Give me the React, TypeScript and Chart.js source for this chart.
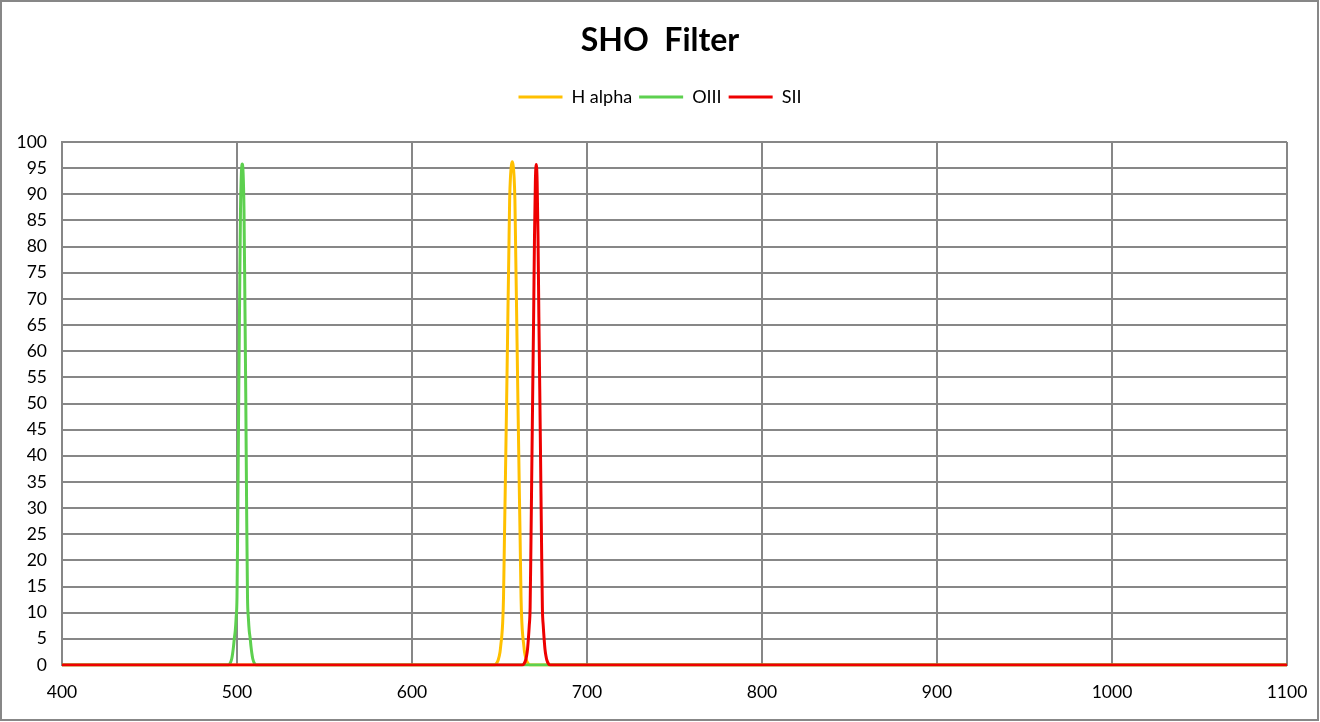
import { useEffect, useRef } from 'react';
import { Chart, registerables } from 'chart.js';

Chart.register(...registerables);

const chartTitle = 'SHO  Filter';
const seriesNames = ['H alpha', 'OIII', 'SII'];
const seriesColors = ['#FFC000', '#5DD04F', '#EE0000'];

const xMin = 400;
const xMax = 1100;
const xStep = 100;
const yMin = 0;
const yMax = 100;
const yStep = 5;

const haWavelengths = [400, 647.3, 648.3, 649.3, 650.3, 650.8, 651.3, 651.8, 652.3, 652.8, 653.3, 653.8, 654.3, 654.8, 655.3, 655.8, 656.3, 656.8, 657.3, 657.8, 658.3, 658.8, 659.3, 659.8, 660.3, 660.8, 661.3, 661.8, 662.3, 662.8, 663.3, 663.8, 664.3, 665.3, 666.3, 667.3, 1100];
const haValues = [0, 0, 0.3, 1, 2.5, 4, 5.5, 8, 13, 23.7, 34, 44.7, 55.5, 67, 78, 89, 93.5, 95.5, 96.2, 95.5, 93.5, 89, 78, 67, 55.5, 44.7, 34, 23.7, 13, 8, 5.5, 4, 2.5, 1, 0.3, 0, 0];

const oiiiWavelengths = [400, 495, 496, 497, 497.5, 498, 498.5, 499, 499.5, 500, 500.5, 501, 501.5, 502, 502.5, 503, 503.5, 504, 504.5, 505, 505.5, 506, 506.5, 507, 507.5, 508, 508.5, 509, 510, 511, 1100];
const oiiiValues = [0, 0, 0.3, 1.2, 2.2, 3.5, 5.2, 6.5, 9, 13, 30, 52, 70, 87, 94, 95.8, 94, 87, 70, 52, 30, 13, 9, 6.5, 5.2, 3.5, 2.2, 1.2, 0.3, 0, 0];

const siiWavelengths = [400, 663, 664, 665, 665.5, 666, 666.5, 667, 667.5, 668, 668.5, 669, 669.5, 670, 670.5, 671, 671.5, 672, 672.5, 673, 673.5, 674, 674.5, 675, 675.5, 676, 676.5, 677, 678, 679, 1100];
const siiValues = [0, 0, 0.2, 1, 1.8, 3, 5, 7.5, 11, 24, 38.6, 52.8, 66.5, 82, 92.5, 95.7, 92.5, 82, 66.5, 52.8, 38.6, 24, 11, 7.5, 5, 3, 1.8, 1, 0.2, 0, 0];

const toPoints = (xs: number[], ys: number[]) => xs.map((x, i) => ({ x, y: ys[i] }));

export default function App() {
  const ref = useRef<HTMLCanvasElement>(null);

  useEffect(() => {
    const family = 'Lato, "Open Sans", sans-serif';
    const gridColor = '#878787';
    const series = [
      toPoints(haWavelengths, haValues),
      toPoints(oiiiWavelengths, oiiiValues),
      toPoints(siiWavelengths, siiValues),
    ];
    const orders = [3, 2, 1];
    const chart = new Chart(ref.current as HTMLCanvasElement, {
      type: 'line',
      data: {
        datasets: series.map((data, i) => ({
          label: seriesNames[i],
          data,
          borderColor: seriesColors[i],
          backgroundColor: seriesColors[i],
          borderWidth: 3,
          pointRadius: 0,
          fill: false,
          cubicInterpolationMode: 'monotone' as const,
          order: orders[i],
        })),
      },
      options: {
        animation: false,
        responsive: false,
        devicePixelRatio: 1,
        layout: { padding: 0 },
        plugins: {
          title: {
            display: true,
            text: chartTitle,
            color: '#000',
            font: { family, size: 32, weight: 'bold', lineHeight: 1.2 },
            padding: { top: 21, bottom: 21.6 },
          },
          legend: {
            display: true,
            position: 'top',
            labels: {
              usePointStyle: true,
              pointStyle: 'line',
              pointStyleWidth: 44,
              padding: 7,
              color: '#000',
              font: { family, size: 18 },
              sort: (a: any, b: any) => a.datasetIndex - b.datasetIndex,
            },
          },
          tooltip: { enabled: false },
        },
        scales: {
          x: {
            type: 'linear',
            min: xMin,
            max: xMax,
            ticks: {
              stepSize: xStep,
              color: '#000',
              font: { family, size: 17.5 },
              padding: 17,
              maxRotation: 0,
              callback: (v: any) => String(v),
            },
            grid: { color: gridColor, lineWidth: 2, drawTicks: false },
            border: { display: true, color: gridColor, width: 2 },
            afterFit: (s: any) => { s.height = 57; s.paddingLeft = 0; s.paddingRight = 0; },
          },
          xTop: {
            type: 'linear',
            position: 'top',
            display: true,
            grid: { display: false, drawTicks: false },
            border: { display: false },
            ticks: { display: false },
            afterFit: (s: any) => { s.height = 26; },
          },
          yRight: {
            type: 'linear',
            position: 'right',
            display: true,
            grid: { display: false, drawTicks: false },
            border: { display: false },
            ticks: { display: false },
            afterFit: (s: any) => { s.width = 33; },
          },
          y: {
            type: 'linear',
            min: yMin,
            max: yMax,
            ticks: { stepSize: yStep, color: '#000', font: { family, size: 17.5 }, padding: 15, autoSkip: false, maxTicksLimit: 50 },
            grid: { color: gridColor, lineWidth: 2, drawTicks: false },
            border: { display: true, color: gridColor, width: 2 },
            afterFit: (s: any) => { s.width = 62; s.paddingTop = 0; s.paddingBottom = 0; },
          },
        },
      } as any,
    });
    return () => chart.destroy();
  }, []);

  return (
    <div style={{ position: 'absolute', left: 0, top: 0, width: 1320, height: 722, background: '#fff' }}>
      <canvas ref={ref} width={1320} height={722} style={{ position: 'absolute', left: 0, top: 0 }} />
      <div style={{ position: 'absolute', left: 0, top: 0, width: 1319, height: 721, boxSizing: 'border-box', border: '2px solid #878787', pointerEvents: 'none' }} />
    </div>
  );
}
